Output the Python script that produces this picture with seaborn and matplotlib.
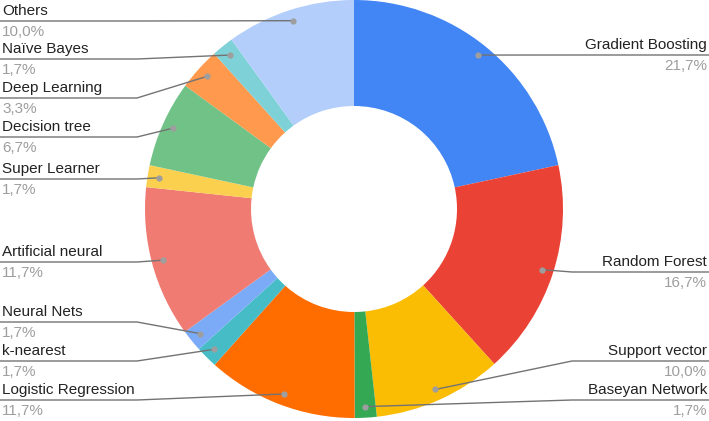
import numpy as np
import matplotlib.pyplot as plt
import seaborn as sns

# Share of studies per method (clockwise from 12 o'clock)
methods = ["Gradient Boosting", "Random Forest", "Support vector", "Baseyan Network",
           "Logistic Regression", "k-nearest", "Neural Nets", "Artificial neural",
           "Super Learner", "Decision tree", "Deep Learning", "Naïve Bayes", "Others"]
shares = [21.7, 16.7, 10.0, 1.7, 11.7, 1.7, 1.7, 11.7, 1.7, 6.7, 3.3, 1.7, 10.0]

palette = ["#4285F4", "#EA4335", "#FBBC04", "#34A853", "#FF6D01", "#46BDC6",
           "#7BAAF7", "#F07B72", "#FCD04F", "#71C287", "#FF994D", "#7ED1D7", "#B3CEFB"]

# where each label's underline sits (pixels from the top), spread out so labels don't collide
label_rows = [55, 272, 361, 400, 400, 361, 322, 262, 179, 137, 98, 59, 21]

W, H = 709, 421
cx, cy, R = 354, 209, 209


def Y(y):
    # pixel row -> data y
    return H - y


sns.set_theme(style="white")
plt.rcParams['font.family'] = ['Liberation Sans', 'DejaVu Sans']

fig = plt.figure(figsize=(W / 100, H / 100), dpi=100)
ax = fig.add_axes([0, 0, 1, 1])

wedges, _ = ax.pie(shares, colors=sns.color_palette(palette), startangle=90,
                   counterclock=False, center=(cx, Y(cy)), radius=R,
                   wedgeprops=dict(width=106, linewidth=0))

for w, name, val, row in zip(wedges, methods, shares, label_rows):
    ang = np.deg2rad((w.theta1 + w.theta2) / 2)
    dx = cx + 0.947 * R * np.cos(ang)
    dy = Y(cy) + 0.947 * R * np.sin(ang)
    left = np.cos(ang) < 0
    edge = 0 if left else W
    elbow = 137 if left else 572
    ax.plot([edge, elbow, dx], [Y(row), Y(row), dy], color="#737373", lw=1,
            solid_capstyle="butt", zorder=3)
    ax.plot(dx, dy, "o", ms=4.5, color="#9e9e9e", mec="none", zorder=4)
    tx = 2 if left else W - 2
    ha = "left" if left else "right"
    ax.text(tx, Y(row) + 6, name, ha=ha, va="baseline", fontsize=11, color="#222222")
    ax.text(tx, Y(row) - 15, f"{val:.1f}%".replace(".", ","), ha=ha, va="baseline",
            fontsize=11, color="#9e9e9e")

ax.set_xlim(0, W)
ax.set_ylim(0, H)
ax.set_aspect("equal")
ax.axis("off")

fig.savefig("out.png", dpi=100, facecolor="white")
